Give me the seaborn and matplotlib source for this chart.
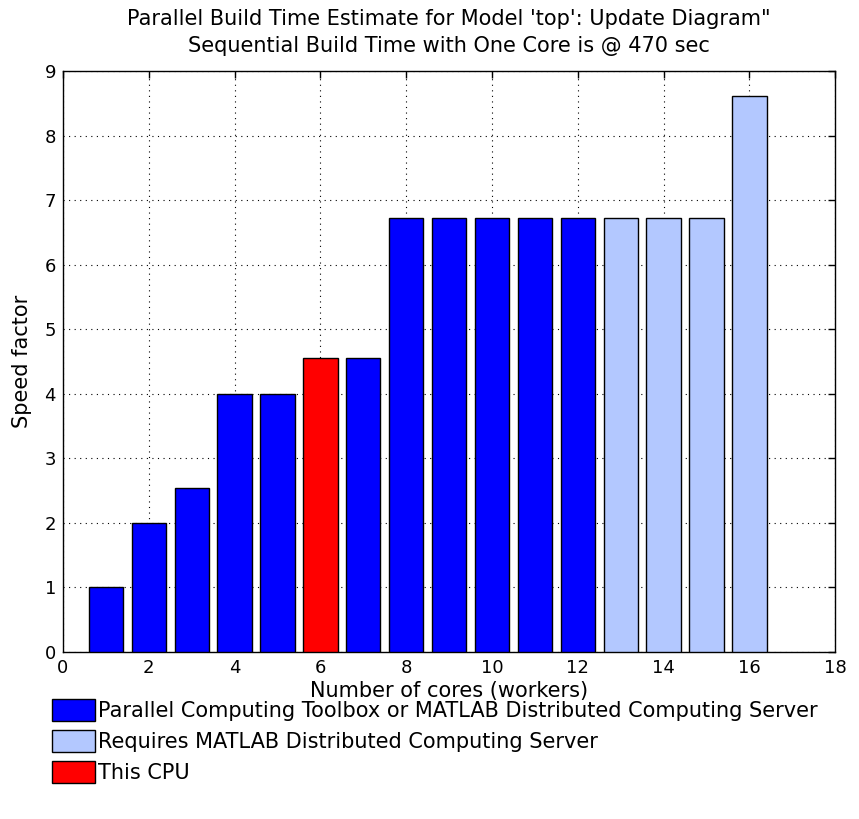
import pandas as pd
import seaborn as sns
from matplotlib import pyplot as plt

cores = list(range(1, 17))
speed = [1.0, 2.0, 2.54, 3.99, 3.99, 4.55, 4.55,
         6.73, 6.73, 6.73, 6.73, 6.73, 6.73, 6.73, 6.73, 8.62]
PCT = "Parallel Computing Toolbox or MATLAB Distributed Computing Server"
MDCS = "Requires MATLAB Distributed Computing Server"
CPU = "This CPU"
group = [PCT] * 5 + [CPU] + [PCT] * 6 + [MDCS] * 4

palette = {PCT: "#0000FF", MDCS: "#B3C8FF", CPU: "#FF0000"}
legend_order = [PCT, MDCS, CPU]

df = pd.DataFrame({"cores": cores, "speed": speed, "group": group})

sns.set_style("white")
plt.rcParams["font.family"] = ["DejaVu Sans"]
plt.rcParams["text.color"] = "black"
plt.rcParams["axes.labelcolor"] = "black"
FS = 15

fig = plt.figure(figsize=(8.59, 8.19), dpi=100)
ax = fig.add_axes([0.0733, 0.204, 0.899, 0.709])

sns.barplot(df, x="cores", y="speed", hue="group", native_scale=True, dodge=False,
            width=0.8, palette=palette, saturation=1, edgecolor="black", linewidth=1.0,
            ax=ax, hue_order=legend_order, legend=True, zorder=3)

ax.set_xlim(0, 18)
ax.set_ylim(0, 9)
ax.set_xticks(range(0, 19, 2))
ax.set_yticks(range(0, 10))
ax.grid(True, color="black", linestyle=(0, (1, 4)), linewidth=0.8, zorder=0)
ax.set_axisbelow(True)
for s in ax.spines.values():
    s.set_color("black")
    s.set_linewidth(1.0)
    s.set_visible(True)
ax.tick_params(direction="in", length=5, width=1, top=True, right=True,
               labelsize=13, colors="black", pad=5)
ax.set_xlabel("Number of cores (workers)", fontsize=FS, labelpad=3)
ax.set_ylabel("Speed factor", fontsize=FS, labelpad=9)
ax.set_title("Parallel Build Time Estimate for Model 'top': Update Diagram\"\n"
             "Sequential Build Time with One Core is @ 470 sec", fontsize=FS, pad=14,
             linespacing=1.4, color="black")

handles, labels = ax.get_legend_handles_labels()
lookup = dict(zip(labels, handles))
ax.legend([lookup[k] for k in legend_order], legend_order, frameon=False,
          loc="upper left", bbox_to_anchor=(0.0605, 0.1465), bbox_transform=fig.transFigure,
          fontsize=FS, handlelength=2.05, handleheight=1.25, handletextpad=0.15,
          labelspacing=0.42, borderpad=0, borderaxespad=0)

fig.savefig("out.png", dpi=100)
